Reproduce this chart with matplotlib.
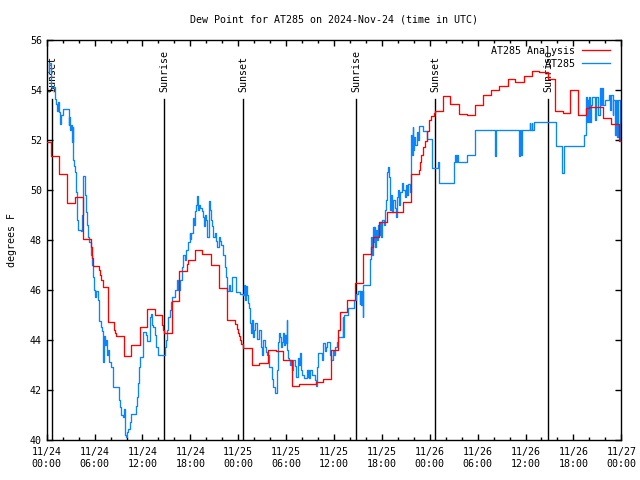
import matplotlib
matplotlib.use("Agg")
import matplotlib.pyplot as plt
import numpy as np

plt.rcParams['font.family'] = ['DejaVu Sans Mono']
FS = 7.2

# ---- data (hours since 2024-11-24 00:00 UTC) ----
red_t = [0.00, 0.58, 1.58, 2.58, 3.58, 4.59, 5.59, 5.70, 5.84, 6.55, 6.70, 6.85, 7.00, 7.10,
         7.64, 8.43, 8.55, 8.68, 9.64, 10.58, 11.70, 12.63, 13.57, 14.41, 14.55, 14.68, 15.66,
         16.62, 17.62, 17.72, 18.54, 19.46, 20.55, 21.63, 22.64, 23.65, 23.80, 23.95, 24.10,
         24.25, 24.40, 24.64, 25.69, 26.65, 27.69, 28.70, 29.60, 30.70, 31.62, 33.75, 34.67,
         35.59, 36.45, 36.80, 37.63, 38.63, 39.63, 40.60, 40.90, 41.58, 42.62, 44.67, 45.61,
         46.53, 46.60, 46.75, 46.95, 47.15, 47.37, 47.60, 47.86, 48.10, 48.49, 48.70, 49.63,
         50.58, 51.62, 52.67, 53.71, 54.72, 55.68, 56.64, 57.77, 58.73, 59.85, 60.77, 61.73,
         62.77, 63.70, 64.74, 65.58, 66.58, 67.58, 68.00, 69.67, 70.71, 71.76, 72.00]
red_v = [51.91, 51.35, 50.65, 49.47, 49.71, 48.05, 47.70, 47.30, 46.96, 46.80, 46.60, 46.40, 46.25, 46.13,
         44.71, 44.40, 44.27, 44.16, 43.36, 43.80, 44.52, 45.22, 45.00, 44.60, 44.40, 44.27, 45.56,
         46.77, 47.05, 47.21, 47.60, 47.44, 47.01, 46.08, 44.81, 44.65, 44.45, 44.30, 44.15,
         44.00, 43.85, 43.67, 43.00, 43.07, 43.62, 43.56, 43.20, 42.16, 42.23, 42.33, 42.43,
         43.60, 44.40, 45.10, 45.62, 46.26, 47.42, 47.73, 48.10, 48.73, 49.13, 49.52, 50.63,
         50.63, 50.80, 51.10, 51.41, 51.70, 51.95, 52.35, 52.81, 52.95, 53.08, 53.17, 53.75,
         53.45, 53.05, 53.01, 53.39, 53.79, 54.01, 54.15, 54.44, 54.32, 54.55, 54.75, 54.71,
         54.44, 53.17, 53.07, 53.99, 53.01, 53.28, 53.32, 52.88, 52.62, 51.95, 51.95]

blue_t = [0.00, 0.33, 0.50, 1.05, 1.20, 1.30, 1.40, 1.55, 1.70, 1.85, 2.05, 2.75, 2.85, 2.95,
          3.05, 3.15, 3.25, 3.35, 3.45, 3.55, 3.65, 3.75, 3.90, 4.30, 4.40, 4.50, 4.60, 4.75,
          4.85, 4.95, 5.05, 5.20, 5.35, 5.50, 5.65, 5.80, 5.95, 6.05, 6.20, 6.40, 6.50, 6.60,
          6.75, 6.90, 7.05, 7.12, 7.20, 7.30, 7.45, 7.55, 7.70, 7.85, 8.00, 8.35, 9.00, 9.10,
          9.20, 9.35, 9.55, 9.65, 9.80, 9.90, 10.05, 10.20, 10.40, 10.60, 11.10, 11.20, 11.30,
          11.40, 11.55, 11.65, 12.10, 12.45, 12.55, 12.90, 13.00, 13.08, 13.15, 13.30, 13.55,
          13.75, 13.90, 14.75, 14.85, 15.00, 15.10, 15.25, 15.40, 15.55, 15.70, 15.90, 16.10,
          16.30, 16.50, 16.70, 16.90, 17.10, 17.30, 17.45, 17.65, 17.90, 18.00, 18.10, 18.35,
          18.45, 18.55, 18.75, 18.88, 18.95, 19.10, 19.25, 19.40, 19.60, 19.72, 19.80, 19.95,
          20.13, 20.30, 20.45, 20.55, 20.70, 20.85, 21.05, 21.25, 21.38, 21.55, 21.70, 21.90,
          22.10, 22.30, 22.51, 22.65, 22.80, 22.95, 23.20, 23.75, 24.20, 24.64, 24.75, 24.85,
          24.95, 25.06, 25.20, 25.35, 25.48, 25.60, 25.69, 25.80, 25.90, 26.00, 26.10, 26.31,
          26.65, 26.80, 26.94, 27.05, 27.15, 27.30, 27.48, 27.65, 27.90, 28.19, 28.40, 28.61,
          28.82, 28.95, 29.03, 29.15, 29.24, 29.35, 29.44, 29.60, 29.75, 29.86, 29.95, 30.07,
          30.12, 30.28, 30.40, 30.49, 30.60, 30.70, 30.90, 31.12, 31.30, 31.53, 31.65, 31.74,
          31.85, 31.95, 32.30, 32.58, 32.70, 32.79, 32.90, 33.00, 33.30, 33.62, 33.75, 33.91,
          34.05, 34.46, 34.60, 34.87, 35.00, 35.08, 35.29, 35.50, 35.65, 35.84, 36.00, 36.13,
          36.35, 36.55, 36.97, 37.10, 37.15, 37.25, 37.40, 37.80, 38.45, 38.80, 39.00, 39.20,
          39.25, 39.40, 39.45, 39.60, 39.65, 40.45, 40.65, 40.75, 40.85, 40.95, 41.05, 41.20,
          41.30, 41.45, 41.55, 41.65, 41.80, 41.95, 42.05, 42.25, 42.40, 42.55, 42.65, 42.80,
          42.95, 43.05, 43.15, 43.30, 43.45, 43.60, 43.75, 43.85, 44.00, 44.15, 44.30, 44.50,
          44.70, 44.85, 45.00, 45.15, 45.30, 45.50, 45.65, 45.75, 45.85, 45.95, 46.05, 46.20,
          46.35, 46.55, 46.70, 47.20, 47.70, 48.24, 48.30, 48.80, 49.05, 49.15, 50.96, 51.05,
          51.15, 51.25, 51.45, 51.60, 52.67, 53.71, 56.20, 56.35, 59.23, 59.30, 59.40, 59.50,
          60.50, 60.60, 60.75, 60.85, 61.05, 63.80, 64.62, 64.82, 67.38, 67.55, 67.65, 67.75,
          67.85, 68.00, 68.10, 68.25, 68.35, 68.60, 68.70, 68.80, 69.10, 69.30, 69.40, 69.55,
          69.70, 70.00, 70.30, 70.45, 70.55, 70.70, 70.90, 71.00, 71.20, 71.30, 71.45, 71.60,
          71.80, 71.90, 72.00]
blue_v = [54.71, 55.07, 54.11, 53.64, 53.45, 53.15, 53.50, 53.10, 52.65, 53.00, 53.24, 52.60, 52.90, 52.40,
          52.60, 51.90, 52.50, 51.20, 50.95, 50.70, 49.90, 48.80, 48.40, 48.35, 49.00, 49.80, 50.55, 50.35,
          49.80, 49.10, 48.60, 48.10, 47.90, 47.40, 47.00, 46.50, 46.00, 45.70, 45.95, 45.60, 45.10, 44.75,
          44.50, 44.35, 43.10, 43.70, 44.15, 43.80, 44.00, 43.40, 43.60, 43.10, 42.90, 42.13, 42.13, 41.60,
          41.33, 41.00, 40.90, 41.25, 40.20, 40.13, 40.30, 40.45, 40.70, 41.03, 41.03, 41.35, 41.70,
          42.30, 42.90, 43.33, 44.33, 44.20, 43.95, 43.95, 44.90, 45.05, 44.60, 44.50, 44.20,
          43.70, 43.40, 43.40, 43.70, 44.00, 44.40, 44.90, 45.20, 45.50, 45.70, 45.70, 46.00,
          46.40, 46.00, 46.40, 46.90, 47.40, 47.20, 47.60, 47.90, 48.28, 48.05, 48.30, 48.88,
          48.60, 49.15, 49.41, 49.75, 49.20, 49.41, 49.30, 49.15, 48.90, 48.55, 49.00, 48.80,
          48.10, 49.55, 49.20, 48.80, 48.55, 48.10, 48.30, 47.95, 47.70, 48.10, 47.95, 47.80,
          47.40, 46.90, 46.50, 45.95, 46.20, 45.95, 46.50, 45.90, 45.85, 45.80, 46.20, 45.60,
          46.15, 45.80, 45.47, 45.30, 44.67, 44.30, 44.80, 44.27, 44.13, 44.40, 44.67, 44.05,
          44.40, 43.70, 43.40, 43.90, 44.00, 43.73, 43.50, 43.40, 42.90, 42.45, 42.13, 41.87,
          42.80, 43.30, 43.90, 44.30, 44.10, 43.70, 43.90, 44.30, 43.80, 44.20, 43.87, 44.80,
          43.60, 43.30, 43.20, 43.00, 43.20, 42.80, 43.20, 42.95, 42.50, 43.30, 43.00, 43.47,
          42.80, 42.60, 42.47, 42.80, 42.50, 42.80, 42.47, 42.80, 42.60, 42.40, 42.16, 42.90,
          43.47, 43.20, 43.87, 43.55, 43.73, 43.90, 43.93, 43.40, 43.20, 43.55, 43.40, 43.73,
          43.93, 44.10, 44.10, 44.90, 44.10, 45.00, 45.00, 45.30, 45.60, 45.85, 45.95, 45.45,
          45.95, 45.40, 45.95, 44.90, 46.20, 47.25, 48.10, 47.40, 48.50, 47.90, 48.50, 47.70,
          48.40, 48.00, 48.60, 48.20, 48.70, 48.10, 48.80, 48.60, 49.20, 49.60, 50.70, 50.90,
          50.50, 49.20, 49.80, 49.10, 49.60, 49.30, 48.90, 49.70, 50.00, 49.40, 49.90, 50.30,
          50.00, 49.70, 50.20, 49.80, 50.25, 49.90, 52.20, 51.40, 52.50, 51.60, 52.10, 51.80,
          52.30, 52.00, 52.55, 52.35, 52.05, 51.80, 50.87, 50.87, 51.10, 50.27, 50.27, 51.13,
          51.40, 51.13, 51.40, 51.13, 51.40, 52.41, 51.35, 52.41, 51.35, 52.41, 51.40, 52.41,
          52.68, 52.41, 52.68, 52.41, 52.71, 51.75, 50.68, 51.75, 52.20, 53.70, 52.70, 53.60,
          52.70, 53.70, 52.70, 53.40, 53.70, 53.70, 52.80, 53.70, 53.00, 54.08, 53.40, 54.08,
          53.40, 53.60, 53.60, 53.80, 53.20, 53.80, 53.00, 53.60, 52.20, 53.60, 52.10, 53.60,
          52.00, 53.40, 52.30]

sun_t = [0.69, 14.73, 24.64, 38.79, 48.70, 62.84]
sun_lbl = ["Sunset", "Sunrise", "Sunset", "Sunrise", "Sunset", "Sunrise"]

xtick_hours = list(range(0, 73, 6))
xtick_labels = ["11/24\n00:00", "11/24\n06:00", "11/24\n12:00", "11/24\n18:00",
                "11/25\n00:00", "11/25\n06:00", "11/25\n12:00", "11/25\n18:00",
                "11/26\n00:00", "11/26\n06:00", "11/26\n12:00", "11/26\n18:00",
                "11/27\n00:00"]

fig = plt.figure(figsize=(6.4, 4.8), dpi=100)
ax = fig.add_axes([46.7/640, 1-440/480, (621.3-46.7)/640, 400/480])

for t, lbl in zip(sun_t, sun_lbl):
    ax.plot([t, t], [40, 53.65], color='black', lw=1.0, zorder=1)
    ax.text(t, 53.92, lbl, rotation=90, ha='center', va='bottom', fontsize=FS, zorder=1)

ax.plot(red_t, red_v, drawstyle='steps-post', color='#ff0000', lw=0.95, label='AT285 Analysis', zorder=3)
ax.plot(blue_t, blue_v, drawstyle='steps-post', color='#0a84ff', lw=0.95, label='         AT285', zorder=2)

ax.set_xlim(0, 72)
ax.set_ylim(40, 56)
ax.set_xticks(xtick_hours)
ax.set_xticklabels(xtick_labels, fontsize=FS)
ax.set_xticks(np.arange(0, 73, 2), minor=True)
ax.set_yticks(np.arange(40, 57, 2))
ax.tick_params(axis='y', labelsize=FS)
ax.tick_params(which='both', direction='in', top=True, right=True, width=1.0)
ax.tick_params(which='major', length=4.0)
ax.tick_params(which='minor', length=2.2)
ax.tick_params(axis='x', which='major', pad=5)
for s in ax.spines.values():
    s.set_linewidth(1.0)

ax.set_ylabel('degrees F', fontsize=FS, labelpad=9)
fig.text(334/640, 1-19/480, 'Dew Point for AT285 on 2024-Nov-24 (time in UTC)',
         ha='center', va='center', fontsize=FS)

leg = ax.legend(loc='upper right', frameon=False, markerfirst=False, fontsize=FS,
                handlelength=2.8, handletextpad=0.75, labelspacing=0.3,
                borderaxespad=0.0, borderpad=0.2,
                bbox_to_anchor=(1 - 9/574.6, 1 - 4/400))

fig.savefig('out.png', dpi=100)
